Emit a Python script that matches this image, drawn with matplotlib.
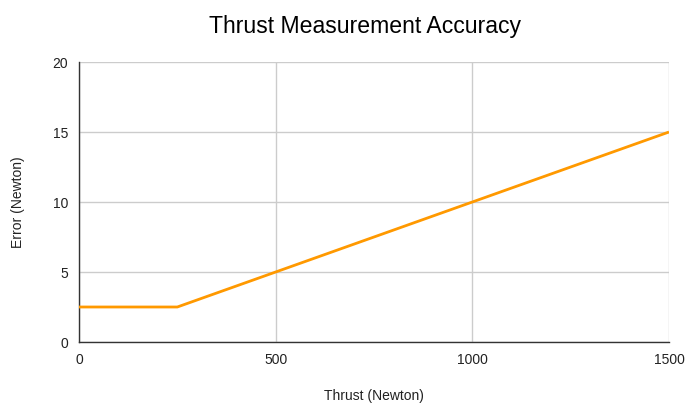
import matplotlib
matplotlib.use("Agg")
import matplotlib.pyplot as plt

plt.rcParams['font.family'] = ['Liberation Sans', 'DejaVu Sans']

thrust = [0, 250, 1500]
error = [2.5, 2.5, 15]
x_ticks = [0, 500, 1000, 1500]
y_ticks = [0, 5, 10, 15, 20]

W, H = 687, 403
fig = plt.figure(figsize=(W/100, H/100), dpi=100)
ax = fig.add_axes([79/W, 1-342/H, (669-79)/W, (342-62)/H])

ax.plot(thrust, error, color='#FF9900', lw=2, solid_capstyle='butt', zorder=3)
ax.set_xlim(0, 1500)
ax.set_ylim(0, 20)
ax.set_xticks(x_ticks)
ax.set_yticks(y_ticks)
ax.grid(True, color='#cccccc', lw=1)
ax.set_axisbelow(True)
for s in ['top', 'right']:
    ax.spines[s].set_visible(False)
for s in ['left', 'bottom']:
    ax.spines[s].set_color('#333333')
    ax.spines[s].set_linewidth(1)
ax.tick_params(length=0, labelsize=10, colors='#222222', pad=8)
fig.text(374/W, 1-396/H, 'Thrust (Newton)', ha='center', va='center', fontsize=10, color='#222222')
fig.text(18/W, 1-202/H, 'Error (Newton)', ha='center', va='center', rotation=90, fontsize=10, color='#222222')
fig.text(365/W, 1-27/H, 'Thrust Measurement Accuracy', ha='center', va='center', fontsize=16.6, color='#000000')

fig.savefig('out.png', dpi=100)
